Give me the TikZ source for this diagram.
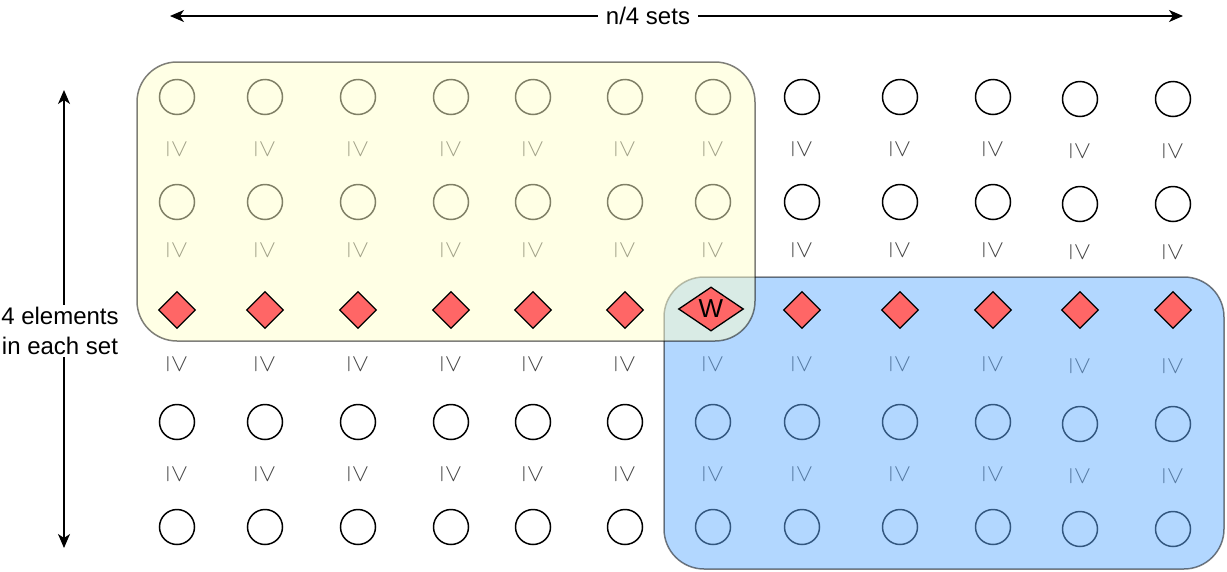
\documentclass[tikz,border=0pt]{standalone}
\usepackage{fontspec}
\setmainfont{Liberation Sans}
\usetikzlibrary{arrows.meta,shapes.geometric}
\definecolor{keyred}{HTML}{FF6666}
\definecolor{setyellow}{HTML}{FFFFCC}
\definecolor{setblue}{HTML}{66AFFF}
\definecolor{relgrey}{HTML}{444444}
\begin{document}
\begin{tikzpicture}[x=1pt,y=-1pt,
  elem/.style={circle,draw=black,line width=1.5pt,minimum size=35pt,inner sep=0pt},
  keyelem/.style={diamond,draw=black,line width=1.3pt,fill=keyred,minimum width=37pt,minimum height=37pt,inner sep=0pt},
  rel/.style={rotate=-90,text=relgrey,font=\fontsize{28}{28}\selectfont,inner sep=0pt},
  setbox/.style={draw=black,draw opacity=0.5,fill opacity=0.5,line width=1.5pt,rounded corners=40pt,inner sep=0pt},
  dim/.style={line width=1.5pt,{Stealth[length=14pt,width=12pt,inset=4pt]}-{Stealth[length=14pt,width=12pt,inset=4pt]}},
  lbl/.style={fill=white,font=\fontsize{24}{30}\selectfont,inner xsep=8pt,inner ysep=2pt}
]
\useasboundingbox (0,0) rectangle (1227,571);

% dimension arrows
\coordinate (ta) at (170,16);
\coordinate (tb) at (1183,16);
\draw[dim] (ta) -- (tb);
\node[lbl] (toplabel) at (648,16) {n/4 sets};
\coordinate (la) at (64,90);
\coordinate (lb) at (64,548);
\draw[dim] (la) -- (lb);
\node[lbl,align=center,inner xsep=0pt] (leftlabel) at (60,331) {4 elements\\in each set};

% elements and relations
\foreach \x/\d [count=\i] in {177/0,265/0,358/0,451/0,533/0,625/0,713/0,802/0,900/0,993/0,1080/2,1173/2}{
  \node[elem] (e-\i-1) at (\x,97+\d) {};
  \node[rel] (r-\i-1) at (\x,149+\d) {$\geq$};
  \node[elem] (e-\i-2) at (\x,202+\d) {};
  \node[rel] (r-\i-2) at (\x,250+\d) {$\geq$};
  \node[rel] (r-\i-3) at (\x,364+\d) {$\geq$};
  \node[elem] (e-\i-4) at (\x,422+\d) {};
  \node[rel] (r-\i-4) at (\x,474+\d) {$\geq$};
  \node[elem] (e-\i-5) at (\x,527+\d) {};
}

% sets
\node[setbox,fill=setblue,minimum width=560pt,minimum height=292pt] (blueset) at (944,423) {};
\node[setbox,fill=setyellow,minimum width=618pt,minimum height=279pt] (yellowset) at (446,201.5) {};

% key row
\foreach \x [count=\i] in {177,265,358,451,533,625}{
  \node[keyelem] (k-\i) at (\x,310) {};
}
\node[keyelem,minimum width=65pt,minimum height=44pt,font=\fontsize{26}{26}\selectfont] (k-7) at (711,309) {W};
\foreach \x [count=\i from 8] in {802,900,993,1080,1173}{
  \node[keyelem] (k-\i) at (\x,310) {};
}
\end{tikzpicture}
\end{document}
